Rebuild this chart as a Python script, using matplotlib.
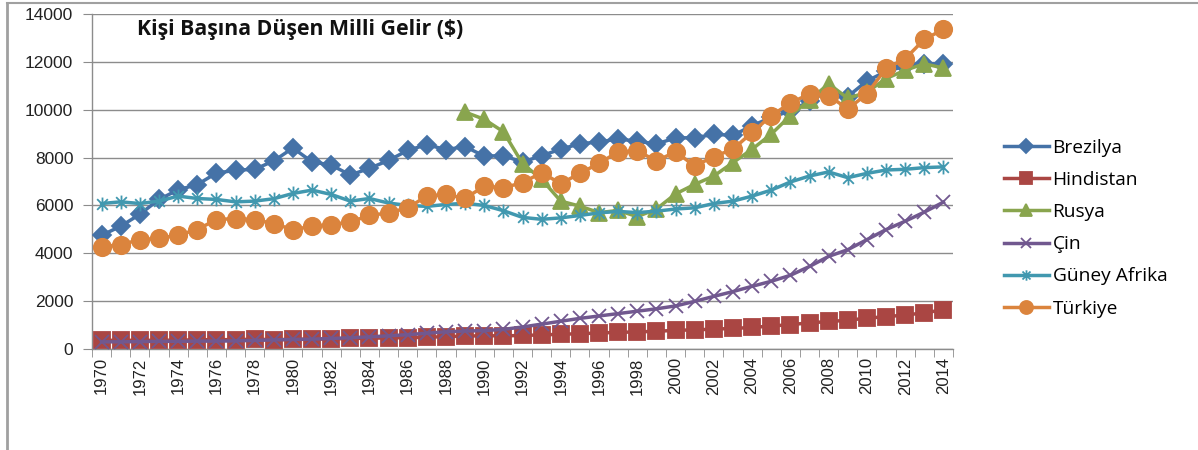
import numpy as np
import matplotlib
matplotlib.use("Agg")
import matplotlib.pyplot as plt
from matplotlib.path import Path
from matplotlib.lines import Line2D

# data
years = list(range(1970, 2015))

brezilya = [4750, 5130, 5630, 6250, 6650, 6870, 7350, 7470, 7510, 7860,
            8400, 7820, 7690, 7270, 7550, 7880, 8300, 8540, 8330, 8460,
            8060, 8080, 7810, 8080, 8350, 8580, 8650, 8780, 8680, 8570,
            8820, 8830, 8970, 8930, 9330, 9680, 9950, 10350, 10800, 10550,
            11200, 11600, 11820, 11930, 11900]

hindistan = [360, 365, 360, 365, 370, 385, 390, 390, 410, 390,
             400, 415, 420, 440, 450, 465, 475, 490, 520, 540,
             555, 550, 565, 590, 615, 640, 670, 695, 715, 740,
             780, 800, 830, 860, 900, 960, 1020, 1090, 1150, 1200,
             1290, 1350, 1420, 1510, 1640]

rusya = [None] * 19 + [9900, 9600, 9080, 7750, 7090, 6180, 5970, 5700, 5790, 5530,
                       5850, 6480, 6880, 7230, 7790, 8350, 8980, 9750, 10400, 11080,
                       10480, 10730, 11300, 11650, 11920, 11740]

cin = [300, 300, 310, 320, 320, 330, 330, 340, 360, 380,
       400, 410, 440, 470, 510, 550, 600, 660, 720, 750,
       770, 820, 920, 1040, 1160, 1280, 1380, 1480, 1580, 1680,
       1800, 1990, 2200, 2400, 2620, 2830, 3080, 3450, 3870, 4150,
       4570, 4990, 5340, 5720, 6140]

guney_afrika = [6080, 6150, 6080, 6180, 6390, 6290, 6250, 6150, 6180, 6280,
                6500, 6640, 6460, 6180, 6290, 6100, 6000, 5960, 6040, 6090,
                6000, 5780, 5500, 5420, 5480, 5580, 5690, 5750, 5700, 5760,
                5850, 5900, 6080, 6180, 6390, 6640, 6980, 7230, 7400, 7160,
                7340, 7480, 7510, 7580, 7610]

turkiye = [4270, 4360, 4570, 4620, 4760, 4990, 5410, 5450, 5410, 5240,
           4990, 5130, 5200, 5310, 5580, 5690, 5900, 6390, 6460, 6290,
           6810, 6740, 6950, 7370, 6910, 7340, 7760, 8240, 8280, 7860,
           8240, 7650, 8040, 8350, 9050, 9750, 10280, 10660, 10590, 10030,
           10660, 11730, 12130, 12940, 13360]

# Excel-style asterisk marker (x with a vertical bar)
star = Path([(-1, -1), (1, 1), (-1, 1), (1, -1), (0, -1.3), (0, 1.3)],
            [Path.MOVETO, Path.LINETO, Path.MOVETO, Path.LINETO, Path.MOVETO, Path.LINETO])

series = [
    ("Brezilya", brezilya, "#4572A7", "D", 9.5),
    ("Hindistan", hindistan, "#AA4643", "s", 12),
    ("Rusya", rusya, "#89A54E", "^", 12),
    ("Çin", cin, "#71588F", "x", 10),
    ("Güney Afrika", guney_afrika, "#4198AF", star, 10),
    ("Türkiye", turkiye, "#DB843D", "o", 12.5),
]

fig = plt.figure(figsize=(11.98, 4.5), dpi=100)
ax = fig.add_axes([92 / 1198, 1 - 349 / 450, (953 - 92) / 1198, (349 - 14) / 450])

x = np.arange(len(years))
for name, vals, color, mk, ms in series:
    v = np.array([np.nan if a is None else a for a in vals], dtype=float)
    ax.plot(x, v, color=color, lw=2.5, marker=mk, markersize=ms,
            markerfacecolor=color, markeredgecolor=color, markeredgewidth=1.3,
            label=name, zorder=3)

ax.set_xlim(-0.5, len(years) - 0.5)
ax.set_ylim(0, 14000)
ax.set_yticks(range(0, 14001, 2000))
ax.yaxis.grid(True, color="#8C8C8C", lw=1)
ax.set_axisbelow(True)

ax.set_xticks(x[::2])
ax.set_xticklabels([str(y) for y in years[::2]], rotation=90)
ax.set_xticks(np.arange(-0.5, len(years), 1), minor=True)
ax.tick_params(axis="x", which="major", length=0, pad=6)
ax.tick_params(axis="x", which="minor", length=6, color="#8C8C8C", direction="out")
ax.tick_params(axis="y", length=6.5, color="#8C8C8C", pad=7)
for lab in ax.get_xticklabels():
    lab.set_fontfamily("Liberation Sans")
    lab.set_fontsize(12)
    lab.set_color("#222222")
for lab in ax.get_yticklabels():
    lab.set_fontfamily("Liberation Sans")
    lab.set_fontsize(12.5)
    lab.set_color("#222222")

for s in ["top", "right"]:
    ax.spines[s].set_visible(False)
for s in ["left", "bottom"]:
    ax.spines[s].set_color("#8C8C8C")
    ax.spines[s].set_linewidth(1)

fig.text(137 / 1198, 1 - 30 / 450, "Kişi Başına Düşen Milli Gelir ($)",
         fontfamily="Open Sans", fontweight="bold", fontsize=15.3,
         ha="left", va="center", color="#111111")

leg = fig.legend(loc="upper left", bbox_to_anchor=(996 / 1198, 1 - 131 / 450),
                 frameon=False, prop={"family": "Open Sans", "size": 13.8},
                 handlelength=2.35, handletextpad=0.2, labelspacing=0.74,
                 markerscale=0.75, borderaxespad=0)

# partial outer frame of the chart area
fig.add_artist(Line2D([7 / 1198, 1], [1 - 3 / 450, 1 - 3 / 450], color="#A0A0A0", lw=1.5))
fig.add_artist(Line2D([7 / 1198, 7 / 1198], [0, 1 - 3 / 450], color="#A0A0A0", lw=2))

fig.savefig("out.png", dpi=100)
